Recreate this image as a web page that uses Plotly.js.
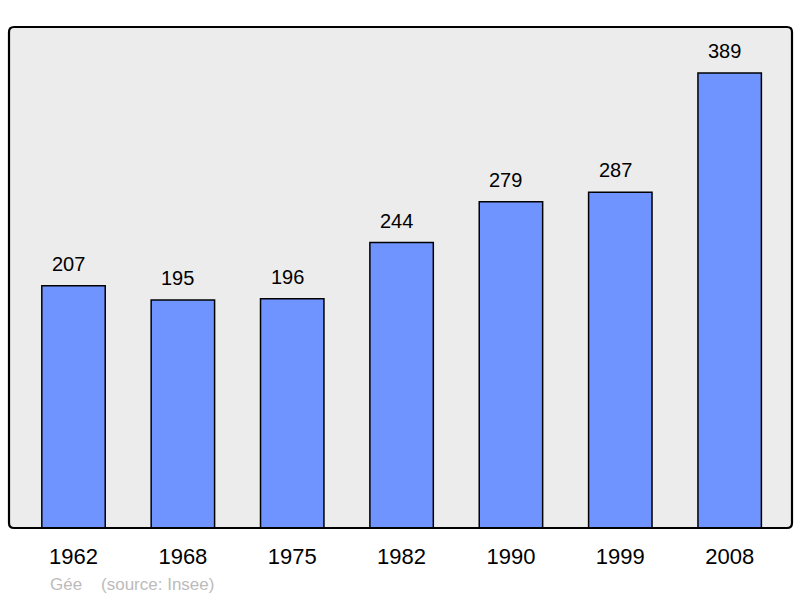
<!DOCTYPE html>
<html>
<head>
<meta charset="utf-8">
<script src="https://cdn.plot.ly/plotly-3.0.1.min.js"></script>
<style>
  html, body { margin: 0; padding: 0; background: #ffffff; }
  #chart { width: 800px; height: 598px; }
</style>
</head>
<body>
<div id="chart"></div>
<script>
// population by census year
const years = ['1962', '1968', '1975', '1982', '1990', '1999', '2008'];
const population = [207, 195, 196, 244, 279, 287, 389];

const barTrace = {
  x: years,
  y: population,
  type: 'bar',
  width: 0.58,
  marker: {
    color: '#7094ff',
    line: { color: '#000000', width: 1.5 }
  },
  hoverinfo: 'skip'
};

// value labels above each bar (x by category index)
const labels = population.map((v, i) => ({
  x: i,
  y: v,
  xref: 'x',
  yref: 'y',
  text: String(v),
  showarrow: false,
  yanchor: 'middle',
  yshift: 22,
  xshift: -5,
  font: { family: 'Liberation Sans, Arial, sans-serif', size: 20, color: '#000000' }
}));

labels.push({
  x: (48 - 9) / 783,
  y: -0.112,
  xref: 'paper',
  yref: 'paper',
  text: 'Gée&nbsp;&nbsp;&nbsp;&nbsp;(source: Insee)',
  showarrow: false,
  xanchor: 'left',
  yanchor: 'middle',
  font: { family: 'Liberation Sans, Arial, sans-serif', size: 17, color: '#bbbbbb' }
});

const rx = 5 / 783, ry = 5 / 501;
const borderPath =
  'M ' + rx + ',0 L ' + (1 - rx) + ',0 Q 1,0 1,' + ry +
  ' L 1,' + (1 - ry) + ' Q 1,1 ' + (1 - rx) + ',1' +
  ' L ' + rx + ',1 Q 0,1 0,' + (1 - ry) +
  ' L 0,' + ry + ' Q 0,0 ' + rx + ',0 Z';

const layout = {
  width: 800,
  height: 598,
  margin: { l: 9, r: 8, t: 27, b: 70, pad: 0 },
  paper_bgcolor: '#ffffff',
  plot_bgcolor: '#ececec',
  showlegend: false,
  font: { family: 'Liberation Sans, Arial, sans-serif' },
  xaxis: {
    type: 'category',
    range: [-0.59, 6.57],
    showgrid: false,
    zeroline: false,
    showline: false,
    ticks: '',
    ticklabelstandoff: 13,
    tickfont: { size: 22, color: '#000000' },
    fixedrange: true
  },
  yaxis: {
    range: [0, 428.3],
    showgrid: false,
    zeroline: false,
    showline: false,
    showticklabels: false,
    ticks: '',
    fixedrange: true
  },
  shapes: [{
    type: 'path',
    xref: 'paper',
    yref: 'paper',
    path: borderPath,
    line: { color: '#000000', width: 2.2 },
    fillcolor: 'rgba(0,0,0,0)',
    layer: 'above'
  }],
  annotations: labels
};

Plotly.newPlot('chart', [barTrace], layout, { displayModeBar: false, staticPlot: true });
</script>
</body>
</html>
